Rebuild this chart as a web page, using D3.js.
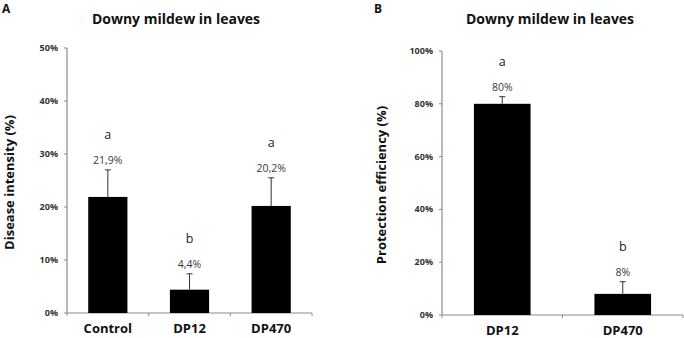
<!DOCTYPE html>
<html>
<head>
<meta charset="utf-8">
<script src="https://cdn.jsdelivr.net/npm/d3@7"></script>
<style>
  body { margin: 0; background: #fff; }
  svg { display: block; }
  text { font-family: "Open Sans", "DejaVu Sans", sans-serif; }
</style>
</head>
<body>
<div id="chart"></div>
<script>
const width = 684;
const height = 338;

// panel A
const catsA = ["Control", "DP12", "DP470"];
const valuesA = [21.9, 4.4, 20.2];
const errA = [5.1, 3.0, 5.3];
const labelsA = ["21,9%", "4,4%", "20,2%"];
const lettersA = ["a", "b", "a"];
const ticksA = [0, 10, 20, 30, 40, 50];

// panel B
const catsB = ["DP12", "DP470"];
const valuesB = [80, 8];
const errB = [2.7, 4.6];
const labelsB = ["80%", "8%"];
const lettersB = ["a", "b"];
const ticksB = [0, 20, 40, 60, 80, 100];

const svg = d3.select("#chart").append("svg")
    .attr("width", width)
    .attr("height", height);

function panel(opt) {
    const g = svg.append("g");
    const x = d3.scaleBand().domain(opt.cats).range([opt.x0, opt.x1]).paddingInner(opt.pad).paddingOuter(opt.pad / 2);
    const xb = d3.scaleBand().domain(opt.cats).range([opt.x0, opt.x1]);
    const y = d3.scaleLinear().domain([0, opt.max]).range([opt.y0, opt.y1]);

    // axes
    g.append("line").attr("x1", opt.x0).attr("x2", opt.x0).attr("y1", y(0)).attr("y2", y(opt.max))
        .attr("stroke", "#8c8c8c").attr("stroke-width", 1.2);
    g.append("line").attr("x1", opt.x0).attr("x2", opt.x1).attr("y1", y(0)).attr("y2", y(0))
        .attr("stroke", "#8c8c8c").attr("stroke-width", 1.2);

    g.selectAll(".yt").data(opt.ticks).enter().append("line")
        .attr("x1", opt.x0 - 3).attr("x2", opt.x0)
        .attr("y1", d => y(d)).attr("y2", d => y(d))
        .attr("stroke", "#8c8c8c");
    g.selectAll(".yl").data(opt.ticks).enter().append("text")
        .attr("x", opt.x0 - 9).attr("y", d => y(d) + 3)
        .attr("text-anchor", "end")
        .attr("font-size", 9).attr("font-weight", "bold").attr("fill", "#333")
        .text(d => d + "%");

    // category boundary ticks
    const bounds = opt.cats.map(c => xb(c)).concat([opt.x1]);
    g.selectAll(".xt").data(bounds).enter().append("line")
        .attr("x1", d => d).attr("x2", d => d)
        .attr("y1", y(0)).attr("y2", y(0) + 3)
        .attr("stroke", "#8c8c8c");

    g.selectAll(".xl").data(opt.cats).enter().append("text")
        .attr("x", d => xb(d) + xb.bandwidth() / 2)
        .attr("y", opt.y0 + 20)
        .attr("text-anchor", "middle")
        .attr("font-size", 13).attr("font-weight", "bold").attr("fill", "#111")
        .text(d => d);

    // bars
    const cx = (d, i) => x(opt.cats[i]) + x.bandwidth() / 2;
    g.selectAll(".bar").data(opt.values).enter().append("rect")
        .attr("x", (d, i) => x(opt.cats[i]))
        .attr("y", d => y(d))
        .attr("width", x.bandwidth())
        .attr("height", d => y(0) - y(d))
        .attr("fill", "#000");

    // error bars (up only)
    g.selectAll(".err").data(opt.values).enter().append("line")
        .attr("x1", cx).attr("x2", cx)
        .attr("y1", d => y(d)).attr("y2", (d, i) => y(d + opt.err[i]))
        .attr("stroke", "#333").attr("stroke-width", 1);
    g.selectAll(".cap").data(opt.values).enter().append("line")
        .attr("x1", (d, i) => cx(d, i) - 3).attr("x2", (d, i) => cx(d, i) + 3)
        .attr("y1", (d, i) => y(d + opt.err[i])).attr("y2", (d, i) => y(d + opt.err[i]))
        .attr("stroke", "#333").attr("stroke-width", 1);

    // value labels and letters
    g.selectAll(".vl").data(opt.values).enter().append("text")
        .attr("x", cx)
        .attr("y", (d, i) => y(d + opt.err[i]) - 6)
        .attr("text-anchor", "middle")
        .attr("font-size", 10.5).attr("fill", "#3a3a3a")
        .text((d, i) => opt.labels[i]);
    g.selectAll(".lt").data(opt.values).enter().append("text")
        .attr("x", cx)
        .attr("y", (d, i) => y(d + opt.err[i]) - 31)
        .attr("text-anchor", "middle")
        .attr("font-size", 12.5).attr("fill", "#222")
        .text((d, i) => opt.letters[i]);

    // titles
    g.append("text").attr("x", opt.tx).attr("y", 24)
        .attr("text-anchor", "middle")
        .attr("font-size", 14).attr("font-weight", "bold").attr("fill", "#111")
        .text("Downy mildew in leaves");
    g.append("text").attr("x", opt.px).attr("y", 13)
        .attr("font-size", 12).attr("font-weight", "bold").attr("fill", "#111")
        .text(opt.panel);
    g.append("text")
        .attr("transform", "translate(" + opt.ax + "," + ((y(0) + y(opt.max)) / 2 + 2) + ") rotate(-90)")
        .attr("text-anchor", "middle")
        .attr("font-size", 13).attr("font-weight", "bold").attr("fill", "#111")
        .text(opt.ytitle);
}

panel({
    cats: catsA, values: valuesA, err: errA, labels: labelsA, letters: lettersA,
    ticks: ticksA, max: 50, x0: 67, x1: 312, y0: 313, y1: 48, pad: 0.52,
    tx: 176, px: 2, panel: "A", ax: 14, ytitle: "Disease intensity (%)"
});

panel({
    cats: catsB, values: valuesB, err: errB, labels: labelsB, letters: lettersB,
    ticks: ticksB, max: 100, x0: 442, x1: 683, y0: 315, y1: 51, pad: 0.53,
    tx: 550, px: 374, panel: "B", ax: 386, ytitle: "Protection efficiency (%)"
});
</script>
</body>
</html>
